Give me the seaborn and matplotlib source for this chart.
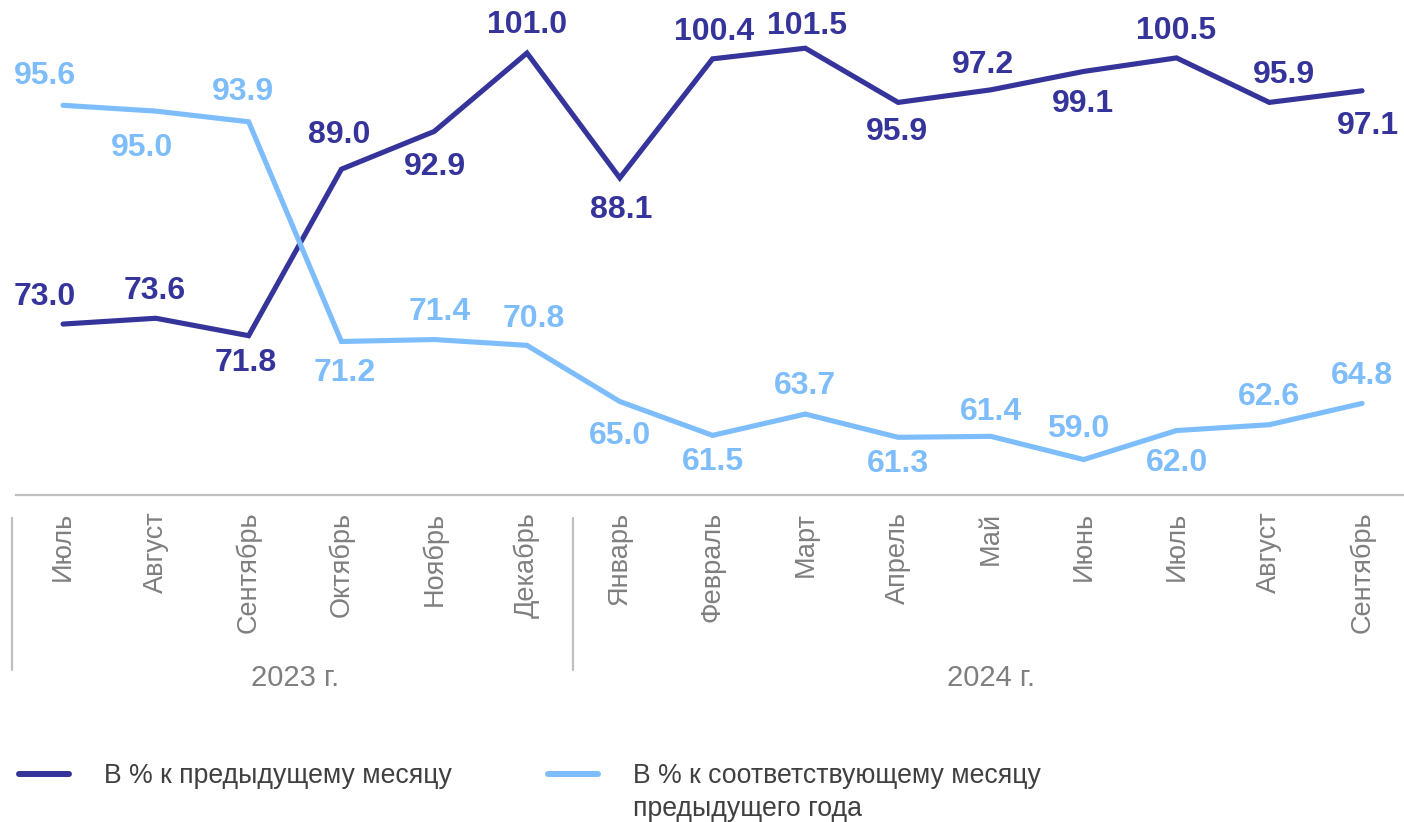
import numpy as np
import pandas as pd
import matplotlib
matplotlib.use("Agg")
import matplotlib.pyplot as plt
import matplotlib.transforms as mtransforms
from matplotlib.lines import Line2D
import seaborn as sns

# ---- data ----
months = ["Июль", "Август", "Сентябрь", "Октябрь", "Ноябрь", "Декабрь",
          "Январь", "Февраль", "Март", "Апрель", "Май", "Июнь",
          "Июль", "Август", "Сентябрь"]
years = ["2023 г.", "2024 г."]
year_counts = [6, 9]
series_names = ["В % к предыдущему месяцу",
                "В % к соответствующему месяцу\nпредыдущего года"]
prev_month = [73.0, 73.6, 71.8, 89.0, 92.9, 101.0, 88.1, 100.4, 101.5,
              95.9, 97.2, 99.1, 100.5, 95.9, 97.1]
prev_year = [95.6, 95.0, 93.9, 71.2, 71.4, 70.8, 65.0, 61.5, 63.7,
             61.3, 61.4, 59.0, 62.0, 62.6, 64.8]

# ---- label offsets (pixels, screen y down) ----
dark_off = [(-18, -27), (-1, -27), (-3, 27), (-2, -34), (1, 36), (0, -28),
            (1, 32), (2, -27), (2, -22), (-1, 30), (-8, -25), (-1, 33),
            (0, -27), (15, -27), (6, 35)]
light_off = [(-18, -29), (-14, 37), (-6, -30), (3, 32), (5, -28), (7, -26),
             (0, 35), (0, 27), (0, -28), (0, 27), (0, -24), (-6, -31),
             (1, 32), (0, -28), (0, -27)]

DARK = "#35349A"
LIGHT = "#7EBDFB"
GREY = "#7F7F7F"
AXGREY = "#BFBFBF"

sns.set_style("white")
plt.rcParams["font.family"] = ["Liberation Sans", "DejaVu Sans"]

W, H = 1404, 822
fig = plt.figure(figsize=(W / 100, H / 100), dpi=100)
ax = fig.add_axes([16 / W, (H - 495) / H, (W - 16) / W, 495 / H])

idx = np.arange(len(months))
df = pd.DataFrame({
    "idx": np.concatenate([idx, idx]),
    "value": prev_month + prev_year,
    "series": [series_names[0]] * len(idx) + [series_names[1]] * len(idx),
})
sns.lineplot(data=df, x="idx", y="value", hue="series",
             palette=[DARK, LIGHT], linewidth=3.7, legend=False, ax=ax,
             solid_capstyle="round", solid_joinstyle="miter")

ax.set_xlim(-0.507, 14.452)
ax.set_ylim(55.34, 106.48)

px2pt = 0.72
for vals, offs, col in [(prev_month, dark_off, DARK), (prev_year, light_off, LIGHT)]:
    for i, (v, (dx, dy)) in enumerate(zip(vals, offs)):
        ax.annotate(f"{v:.1f}", (i, v), xytext=(dx * px2pt, -dy * px2pt),
                    textcoords="offset points", ha="center", va="center",
                    fontsize=23, fontweight="bold", color=col,
                    annotation_clip=False)

for s in ["top", "right", "left"]:
    ax.spines[s].set_visible(False)
ax.spines["bottom"].set_color(AXGREY)
ax.spines["bottom"].set_linewidth(1.6)
ax.set_yticks([])
ax.set_xticks(idx)
ax.set_xticklabels(months, rotation=90, va="top", ha="center",
                   color=GREY, fontsize=19.5)
ax.tick_params(axis="x", length=0, pad=12)
ax.set_xlabel("")
ax.set_ylabel("")

# group separators and year labels
trans = mtransforms.blended_transform_factory(ax.transData, ax.transAxes)
y0 = (495 - 518) / 495
y1 = (495 - 670) / 495
bounds = [-0.55]
start = 0
for name, cnt in zip(years, year_counts):
    end = start + cnt - 1
    ax.text((start + end) / 2, (495 - 678) / 495, name, transform=trans,
            ha="center", va="center", fontsize=21, color=GREY)
    start += cnt
    bounds.append(start - 0.5)
for b in bounds[:-1]:
    ax.plot([b, b], [y0, y1], transform=trans, color=AXGREY, lw=1.6,
            clip_on=False)

# legend: first line of each label in the legend, continuation line below
first_lines = [n.split("\n")[0] for n in series_names]
handles = [Line2D([], [], color=DARK, lw=4.3), Line2D([], [], color=LIGHT, lw=4.3)]
leg = fig.legend(handles, first_lines, loc="center left",
                 bbox_to_anchor=(19 / W, 1 - 776 / H), ncol=2, frameon=False,
                 fontsize=19.2, handlelength=1.87, handletextpad=1.32,
                 columnspacing=3.6, borderpad=0, borderaxespad=0,
                 labelcolor="#404040")
fig.canvas.draw()
renderer = fig.canvas.get_renderer()
for txt, name in zip(leg.get_texts(), series_names):
    parts = name.split("\n")
    if len(parts) > 1:
        bb = txt.get_window_extent(renderer)
        x_fig = bb.x0 / W
        for k, extra in enumerate(parts[1:], start=1):
            fig.text(x_fig, (bb.y0 - 33 * k) / H, extra, ha="left",
                     va="bottom", fontsize=19.2, color="#404040")

fig.savefig("out.png", dpi=100)
